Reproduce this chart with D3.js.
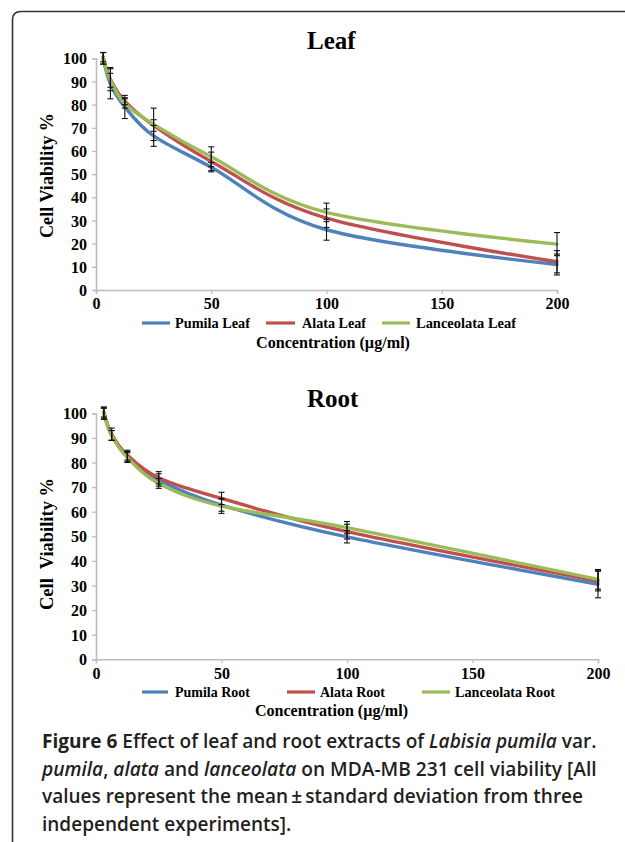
<!DOCTYPE html>
<html>
<head>
<meta charset="utf-8">
<script src="https://cdn.jsdelivr.net/npm/d3@7"></script>
<style>
  html, body { margin: 0; padding: 0; background: #fff; }
  svg { display: block; }
  .serif { font-family: "Liberation Serif", "Times New Roman", serif; font-weight: bold; }
  .caption { font-family: "Open Sans", "Noto Sans", sans-serif; fill: #231f20; }
</style>
</head>
<body>
<svg id="fig" width="625" height="842"></svg>
<script>
// Concentrations tested (µg/ml)
const concentrations = [3.125, 6.25, 12.5, 25, 50, 100, 200];

// Leaf extracts: mean cell viability (%) and standard deviation
const leafPumila      = [100, 89, 79, 66.5, 53, 26, 11];
const leafAlata       = [100.5, 91, 81.5, 71, 55.5, 31, 12.2];
const leafLanceolata  = [100, 90.5, 80.5, 71.5, 57.5, 33.5, 19.8];
const leafPumilaSD     = [2.5, 6.5, 5, 4.5, 2, 4.5, 4.5];
const leafAlataSD      = [2, 5, 1.5, 2.5, 4, 4, 4.8];
const leafLanceolataSD = [2.5, 3, 2, 7, 4.3, 4, 5];

// Root extracts: mean cell viability (%) and standard deviation
const rootPumila      = [100, 91, 82.5, 72.9, 62.7, 49.8, 30.5];
const rootAlata       = [100.5, 91.5, 83, 73.8, 65.4, 51.9, 31.8];
const rootLanceolata  = [100, 91, 82, 71.5, 62.3, 53.5, 32.5];
const rootPumilaSD     = [2.5, 2, 2, 2.5, 2.5, 2.5, 5.5];
const rootAlataSD      = [2, 2.5, 2, 2.5, 2.5, 3, 4];
const rootLanceolataSD = [2, 2, 2, 2, 3, 2.5, 4];

const xTicks = [0, 50, 100, 150, 200];
const yTicks = [0, 10, 20, 30, 40, 50, 60, 70, 80, 90, 100];
const seriesColors = ["#4f81bd", "#c0504d", "#9bbb59"];

const svg = d3.select("#fig");

// Rounded frame around the figure
svg.append("path")
  .attr("d", "M12.5,842 L12.5,20 Q12.5,11.5 21,11.5 L625,11.5")
  .attr("fill", "none").attr("stroke", "#333").attr("stroke-width", 1.6);

function drawPanel(cfg) {
  const x = d3.scaleLinear().domain([0, 200]).range([cfg.left, cfg.right]);
  const y = d3.scaleLinear().domain([0, 100]).range([cfg.bottom, cfg.top]);
  const g = svg.append("g");

  // Title
  g.append("text").attr("class", "serif")
    .attr("x", cfg.titleX).attr("y", cfg.titleY)
    .attr("font-size", 25).text(cfg.title);

  // Axes
  const xAxis = g.append("g").attr("transform", `translate(0,${cfg.bottom})`)
    .call(d3.axisBottom(x).tickValues(xTicks).tickSize(4).tickPadding(4).tickFormat(d3.format("d")));
  const yAxis = g.append("g").attr("transform", `translate(${cfg.left},0)`)
    .call(d3.axisLeft(y).tickValues(yTicks).tickSize(4).tickPadding(5).tickFormat(d3.format("d")));
  [xAxis, yAxis].forEach(a => {
    a.select(".domain").attr("stroke", "#bdbdbd").attr("stroke-width", 1.6);
    a.selectAll(".tick line").attr("stroke", "#bdbdbd").attr("stroke-width", 1.3);
    a.selectAll(".tick text").attr("class", "serif").attr("font-size", 16).attr("fill", "#000");
  });
  yAxis.selectAll(".tick text").attr("dy", "0.35em");

  // Y axis title
  g.append("text").attr("class", "serif")
    .attr("transform", `translate(${cfg.yLabelX},${cfg.yLabelY}) rotate(-90)`)
    .attr("text-anchor", "middle").attr("font-size", 18)
    .attr("textLength", cfg.yLabelLen).attr("lengthAdjust", "spacingAndGlyphs")
    .style("white-space", "pre")
    .text(cfg.yLabel);

  // Smoothed series lines
  const line = d3.line()
    .x((d, i) => x(concentrations[i]))
    .y(d => y(d))
    .curve(d3.curveCatmullRom.alpha(0));
  cfg.series.forEach((s, k) => {
    g.append("path").datum(s.values)
      .attr("d", line).attr("fill", "none")
      .attr("stroke", seriesColors[k]).attr("stroke-width", 3.4)
      .attr("stroke-linejoin", "round").attr("stroke-linecap", "round");
  });

  // Error bars (mean ± SD)
  cfg.series.forEach(s => {
    s.values.forEach((v, i) => {
      const cx = x(concentrations[i]);
      const y1 = y(v + s.sd[i]), y2 = y(v - s.sd[i]);
      const eb = g.append("g").attr("stroke", "#111").attr("stroke-width", 1.1);
      eb.append("line").attr("x1", cx).attr("x2", cx).attr("y1", y1).attr("y2", y2);
      eb.append("line").attr("x1", cx - 3).attr("x2", cx + 3).attr("y1", y1).attr("y2", y1);
      eb.append("line").attr("x1", cx - 3).attr("x2", cx + 3).attr("y1", y2).attr("y2", y2);
    });
  });

  // Legend
  cfg.series.forEach((s, k) => {
    const lx = cfg.legendX[k];
    g.append("line").attr("x1", lx).attr("x2", lx + cfg.legendLine[k])
      .attr("y1", cfg.legendY).attr("y2", cfg.legendY)
      .attr("stroke", seriesColors[k]).attr("stroke-width", 3.2);
    g.append("text").attr("class", "serif")
      .attr("x", cfg.legendTextX[k]).attr("y", cfg.legendY).attr("dy", "0.35em")
      .attr("font-size", 15)
      .attr("textLength", cfg.legendLen[k]).attr("lengthAdjust", "spacingAndGlyphs")
      .text(s.name);
  });

  // X axis title
  g.append("text").attr("class", "serif")
    .attr("x", cfg.xLabelX).attr("y", cfg.xLabelY)
    .attr("text-anchor", "middle").attr("font-size", 16.5)
    .attr("textLength", cfg.xLabelLen).attr("lengthAdjust", "spacingAndGlyphs")
    .text("Concentration (\u00b5g/ml)");
}

drawPanel({
  title: "Leaf", titleX: 307, titleY: 49,
  left: 96, right: 557, top: 58.3, bottom: 290,
  yLabel: "Cell Viability %", yLabelX: 53, yLabelY: 175.5, yLabelLen: 125,
  legendX: [142, 266, 382], legendLine: [28, 29, 28], legendTextX: [175, 302, 416],
  legendLen: [75, 64, 100], legendY: 323,
  xLabelX: 333, xLabelY: 348, xLabelLen: 154,
  series: [
    { name: "Pumila Leaf", values: leafPumila, sd: leafPumilaSD },
    { name: "Alata Leaf", values: leafAlata, sd: leafAlataSD },
    { name: "Lanceolata Leaf", values: leafLanceolata, sd: leafLanceolataSD }
  ]
});

drawPanel({
  title: "Root", titleX: 307, titleY: 407,
  left: 96, right: 598, top: 413.3, bottom: 659.3,
  yLabel: "Cell  Viability %", yLabelX: 53, yLabelY: 544, yLabelLen: 132,
  legendX: [142, 287, 422], legendLine: [26, 28, 28], legendTextX: [175, 320, 455],
  legendLen: [75, 65, 100], legendY: 692,
  xLabelX: 331.5, xLabelY: 716, xLabelLen: 153,
  series: [
    { name: "Pumila Root", values: rootPumila, sd: rootPumilaSD },
    { name: "Alata Root", values: rootAlata, sd: rootAlataSD },
    { name: "Lanceolata Root", values: rootLanceolata, sd: rootLanceolataSD }
  ]
});

// Figure caption
const captionLines = [
  [["Figure 6 ", 700, false], ["Effect of leaf and root extracts of ", 600, false], ["Labisia pumila", 600, true], [" var.", 600, false]],
  [["pumila", 600, true], [", ", 600, false], ["alata", 600, true], [" and ", 600, false], ["lanceolata", 600, true], [" on MDA-MB 231 cell viability [All", 600, false]],
  [["values represent the mean\u2009\u00b1\u2009standard deviation from three", 600, false]],
  [["independent experiments].", 600, false]]
];
const capBase = [748, 775.5, 803, 830.5];
// justified lines are fitted to their width; the last line keeps the previous line's scale
const capWidth = [555, 555, 541, null];
const capLeft = 42;
let lastScale = 1;
captionLines.forEach((parts, i) => {
  const t = svg.append("text").attr("class", "caption")
    .attr("x", 0).attr("y", 0).attr("font-size", 19.5)
    .style("white-space", "pre");
  parts.forEach(([txt, w, it]) => {
    t.append("tspan").attr("font-weight", w)
      .attr("font-style", it ? "italic" : "normal").text(txt);
  });
  const w = t.node().getComputedTextLength();
  const sx = capWidth[i] ? capWidth[i] / w : lastScale;
  lastScale = sx;
  t.attr("transform", `translate(${capLeft},${capBase[i]}) scale(${sx},1)`);
});
</script>
</body>
</html>
